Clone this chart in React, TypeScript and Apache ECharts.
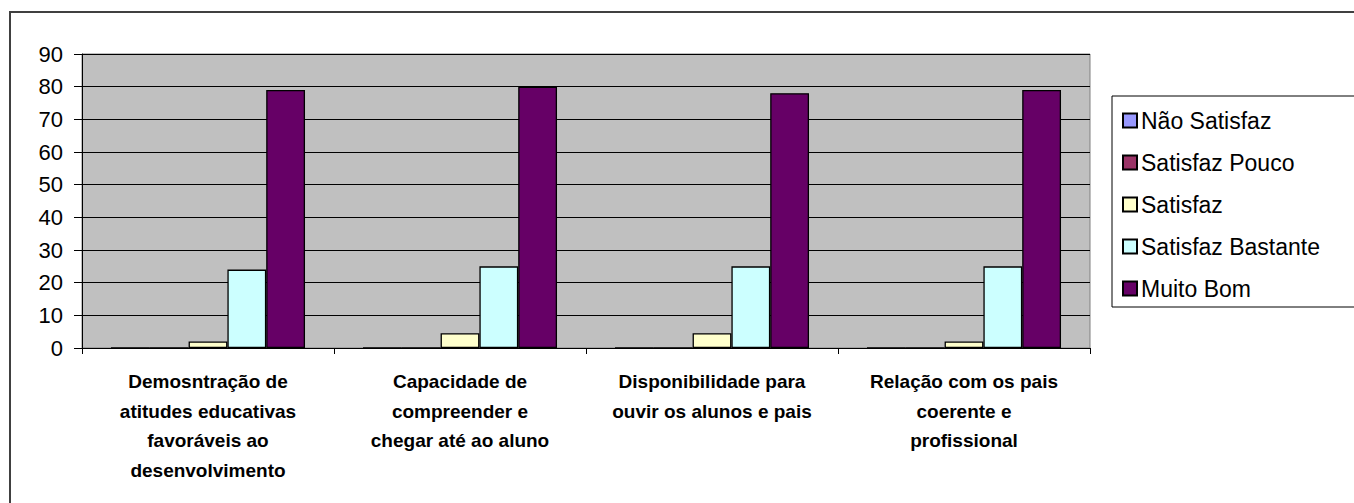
import React, { useEffect, useRef } from "react";
import * as echarts from "echarts";

const categories = [
  "Demosntração de\natitudes educativas\nfavoráveis ao\ndesenvolvimento",
  "Capacidade de\ncompreender e\nchegar até ao aluno",
  "Disponibilidade para\nouvir os alunos e pais",
  "Relação com os pais\ncoerente e\nprofissional",
];
const seriesNames = ["Não Satisfaz", "Satisfaz Pouco", "Satisfaz", "Satisfaz Bastante", "Muito Bom"];
const naoSatisfaz = [0, 0, 0, 0];
const satisfazPouco = [0, 0, 0, 0];
const satisfaz = [2, 4.5, 4.5, 2];
const satisfazBastante = [24, 25, 25, 25];
const muitoBom = [79, 80, 78, 79];
const colors = ["#9999FF", "#993366", "#FFFFCC", "#CCFFFF", "#660066"];
const yTicks = { min: 0, max: 90, interval: 10 };

export default function App() {
  const ref = useRef<HTMLDivElement>(null);
  useEffect(() => {
    if (!ref.current) return;
    const chart = echarts.init(ref.current, undefined, { renderer: "svg" });
    const values = [naoSatisfaz, satisfazPouco, satisfaz, satisfazBastante, muitoBom];
    chart.setOption({
      animation: false,
      textStyle: { fontFamily: "Liberation Sans, Arial, sans-serif" },
      grid: {
        left: 82,
        right: 264,
        top: 54,
        bottom: 155,
        show: true,
        backgroundColor: "#C0C0C0",
        borderColor: "#808080",
        borderWidth: 1,
      },
      graphic: [
        {
          type: "polyline",
          shape: { points: [[10, 503], [10, 12], [1354, 12]] },
          style: { stroke: "#404040", lineWidth: 2, fill: "none" },
          silent: true,
        },
        {
          type: "rect",
          shape: { x: 1112, y: 96, width: 300, height: 211 },
          style: { stroke: "#000", lineWidth: 1, fill: "#fff" },
          z: -1,
          silent: true,
        },
      ],
      legend: {
        orient: "vertical",
        left: 1122,
        top: 109,
        padding: 0,
        itemWidth: 14,
        itemHeight: 14,
        itemGap: 19,
        icon: "rect",
        textStyle: { fontSize: 23, lineHeight: 23, color: "#000", padding: [0, 0, 0, -1] },
        data: seriesNames,
      },
      xAxis: {
        type: "category",
        data: categories,
        axisLine: { lineStyle: { color: "#000", width: 1 } },
        axisTick: { show: true, length: 6, lineStyle: { color: "#000" } },
        axisLabel: {
          interval: 0,
          color: "#000",
          fontSize: 19,
          fontWeight: "bold",
          lineHeight: 29.5,
          margin: 19,
        },
      },
      yAxis: {
        type: "value",
        min: yTicks.min,
        max: yTicks.max,
        interval: yTicks.interval,
        axisLine: { show: true, lineStyle: { color: "#000", width: 1 } },
        axisTick: { show: true, length: 8, lineStyle: { color: "#000" } },
        axisLabel: { color: "#000", fontSize: 22, margin: 19 },
        splitLine: { show: true, lineStyle: { color: "#000", width: 1 } },
      },
      series: seriesNames.map((name, i) => ({
        name,
        type: "bar",
        data: values[i],
        barGap: "0%",
        barCategoryGap: "23%",
        itemStyle: { color: colors[i], borderColor: "#000", borderWidth: 1.3 },
      })),
    });
    return () => chart.dispose();
  }, []);
  return <div ref={ref} style={{ width: 1354, height: 503, position: "absolute", left: 0, top: 0 }} />;
}
